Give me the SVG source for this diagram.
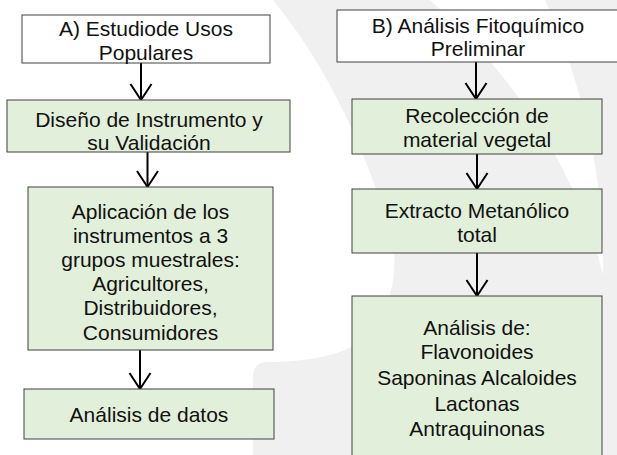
<svg xmlns="http://www.w3.org/2000/svg" width="617" height="455" viewBox="0 0 617 455">
<style>
.box{stroke:#404040;stroke-width:1}
.w{fill:#ffffff}
.g{fill:#e2efda}
text{font-family:"Liberation Sans",Arial,sans-serif;font-size:21px;fill:#111;text-anchor:middle}
.conn line{stroke:#000;stroke-width:2}
</style>
<defs>
<marker id="v" markerUnits="userSpaceOnUse" orient="auto" refX="0" refY="0" markerWidth="20" markerHeight="24" overflow="visible">
<path d="M-16,-10.5 L0,0 L-16,10.5" fill="none" stroke="#000" stroke-width="2"/>
</marker>
</defs>
<g id="background">
<rect x="0" y="0" width="617" height="455" fill="#ffffff"/>
<path d="M273,0 C330,70 365,150 390,230 C405,285 380,335 345,350 C320,360 290,362 268,362 Q253,362 253,377 L253,455 L617,455 L617,0 Z" fill="#f0f0f0"/>
<path d="M430,0 L545,0 C580,80 605,170 603,275 C580,180 520,80 430,0 Z" fill="#ffffff"/>
</g>
<g class="conn" id="connectors">
<line x1="141" y1="63" x2="141" y2="100" marker-end="url(#v)"/>
<line x1="147.5" y1="152" x2="147.5" y2="187" marker-end="url(#v)"/>
<line x1="140" y1="350" x2="140" y2="389" marker-end="url(#v)"/>
<line x1="476" y1="62" x2="476" y2="99" marker-end="url(#v)"/>
<line x1="477" y1="154" x2="477" y2="189" marker-end="url(#v)"/>
<line x1="477" y1="253" x2="477" y2="296" marker-end="url(#v)"/>
</g>
<g id="a1">
<rect class="box w" x="22" y="15" width="248" height="48"/>
<text x="146" y="36">A) Estudiode Usos</text>
<text x="146" y="59.5">Populares</text>
</g>
<g id="a2">
<rect class="box g" x="7" y="100" width="283" height="52"/>
<text x="149" y="126.5">Diseño de Instrumento y</text>
<text x="149" y="149.5">su Validación</text>
</g>
<g id="a3">
<rect class="box g" x="28" y="187" width="245" height="163"/>
<text x="150.5" y="219">Aplicación de los</text>
<text x="150.5" y="243">instrumentos a 3</text>
<text x="150.5" y="267">grupos muestrales:</text>
<text x="150.5" y="291">Agricultores,</text>
<text x="150.5" y="315">Distribuidores,</text>
<text x="150.5" y="339.5">Consumidores</text>
</g>
<g id="a4">
<rect class="box g" x="24" y="389" width="250" height="50"/>
<text x="149" y="422">Análisis de datos</text>
</g>
<g id="b1">
<rect class="box w" x="337" y="10" width="290" height="52"/>
<text x="478" y="32.5">B) Análisis Fitoquímico</text>
<text x="478" y="56">Preliminar</text>
</g>
<g id="b2">
<rect class="box g" x="352" y="99" width="250" height="55"/>
<text x="477" y="123">Recolección de</text>
<text x="477" y="147">material vegetal</text>
</g>
<g id="b3">
<rect class="box g" x="352" y="189" width="250" height="64"/>
<text x="477" y="217.5">Extracto Metanólico</text>
<text x="477" y="241.5">total</text>
</g>
<g id="b4">
<rect class="box g" x="352" y="296" width="250" height="170"/>
<text x="477" y="335">Análisis de:</text>
<text x="477" y="359">Flavonoides</text>
<text x="477" y="385">Saponinas Alcaloides</text>
<text x="477" y="411">Lactonas</text>
<text x="477" y="436">Antraquinonas</text>
</g>
</svg>
